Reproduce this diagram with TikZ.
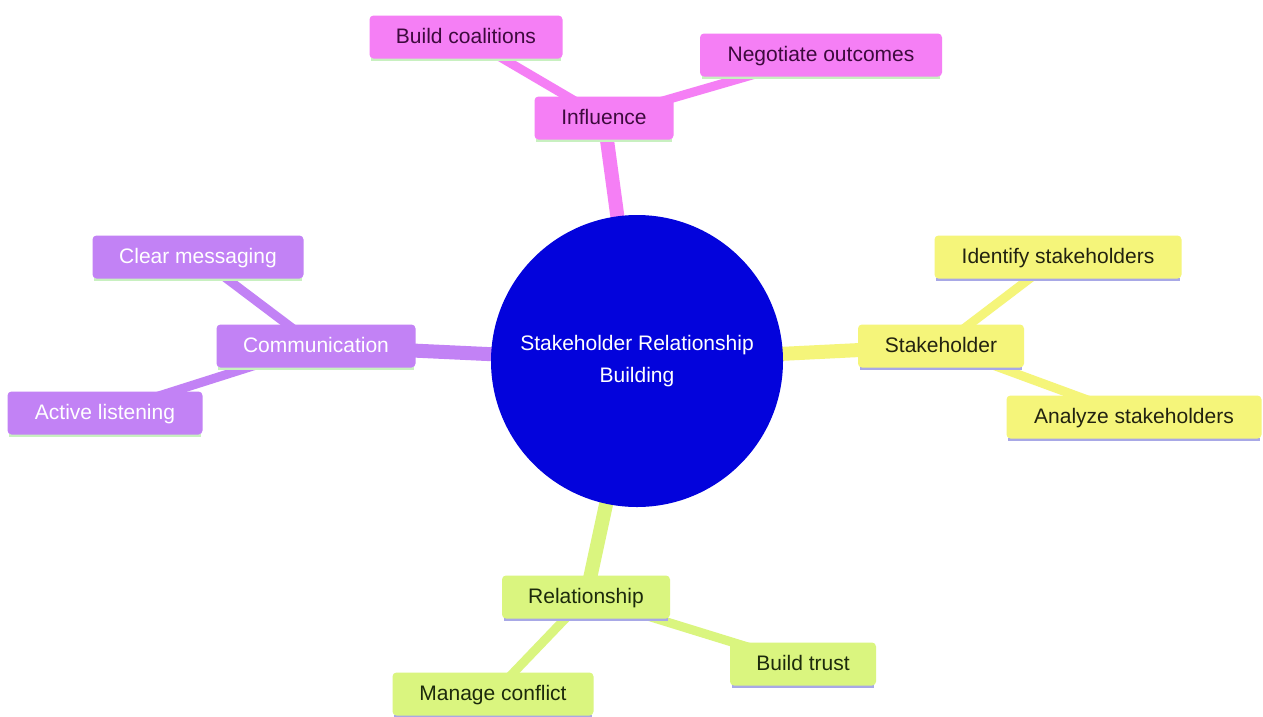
\documentclass[tikz,border=0pt]{standalone}
\usepackage{fontspec}
\setmainfont{Liberation Sans}
\usetikzlibrary{backgrounds}
\definecolor{pinkF}{HTML}{F57FF5}
\definecolor{pinkT}{HTML}{3D0A3D}
\definecolor{purpF}{HTML}{C282F5}
\definecolor{yelF}{HTML}{F5F57A}
\definecolor{yelT}{HTML}{222210}
\definecolor{grnF}{HTML}{DAF57F}
\definecolor{grnT}{HTML}{1C2A0C}
\definecolor{lineG}{HTML}{C8F0C0}
\definecolor{lineL}{HTML}{A8A8E6}
\definecolor{coreB}{HTML}{0303DC}
\tikzset{
  x=1pt, y=-1pt,
  box/.style={rectangle, rounded corners=4pt, minimum height=43pt, inner sep=0pt,
    text height=15pt, text depth=2pt, font=\fontsize{21}{25}\selectfont},
  pinkbox/.style={box, fill=pinkF, text=pinkT},
  purpbox/.style={box, fill=purpF, text=white},
  yelbox/.style={box, fill=yelF, text=yelT},
  grnbox/.style={box, fill=grnF, text=grnT},
  mainedge/.style={line width=14pt},
  leafedge/.style={line width=9pt},
  underG/.style={line width=3pt, draw=lineG},
  underL/.style={line width=3pt, draw=lineL},
}
\begin{document}
\begin{tikzpicture}
\useasboundingbox (0,0) rectangle (1263,716);
% core
\node[circle, fill=coreB, minimum size=292pt, inner sep=0pt, text=white, align=center,
  font=\fontsize{21}{32}\selectfont] (core) at (637,361) {Stakeholder Relationship\\Building};
% influence
\node[pinkbox, minimum width=139pt] (infl) at (604,118) {Influence};
\node[pinkbox, minimum width=193pt] (coal) at (466,37) {Build coalitions};
\node[pinkbox, minimum width=242pt] (nego) at (821,55) {Negotiate outcomes};
% stakeholder
\node[yelbox, minimum width=166pt] (stak) at (941,346) {Stakeholder};
\node[yelbox, minimum width=247pt] (iden) at (1058,257) {Identify stakeholders};
\node[yelbox, minimum width=255pt] (anal) at (1134,417) {Analyze stakeholders};
% communication
\node[purpbox, minimum width=199pt] (comm) at (316,346) {Communication};
\node[purpbox, minimum width=211pt] (clear) at (198,257) {Clear messaging};
\node[purpbox, minimum width=195pt] (activ) at (105,413) {Active listening};
% relationship
\node[grnbox, minimum width=168pt] (rel) at (586,597) {Relationship};
\node[grnbox, minimum width=146pt] (trust) at (803,664) {Build trust};
\node[grnbox, minimum width=201pt] (confl) at (493,694) {Manage conflict};
\begin{pgfonlayer}{background}
  \fill[white] (0,0) rectangle (1263,716);
  \draw[mainedge, draw=pinkF] (core.center) -- (infl.center);
  \draw[leafedge, draw=pinkF] (infl.center) -- (coal.center);
  \draw[leafedge, draw=pinkF] (infl.center) -- (nego.center);
  \draw[mainedge, draw=yelF] (core.center) -- (stak.center);
  \draw[leafedge, draw=yelF] (stak.center) -- (iden.center);
  \draw[leafedge, draw=yelF] (stak.center) -- (anal.center);
  \draw[mainedge, draw=purpF] (core.center) -- (comm.center);
  \draw[leafedge, draw=purpF] (comm.center) -- (clear.center);
  \draw[leafedge, draw=purpF] (comm.center) -- (activ.center);
  \draw[mainedge, draw=grnF] (core.center) -- (rel.center);
  \draw[leafedge, draw=grnF] (rel.center) -- (trust.center);
  \draw[leafedge, draw=grnF] (rel.center) -- (confl.center);
  \foreach \n in {infl,coal,nego,comm,clear,activ}
    \draw[underG] ([xshift=2pt,yshift=-0.5pt]\n.south west) -- ([xshift=-2pt,yshift=-0.5pt]\n.south east);
  \foreach \n in {stak,iden,anal,rel,trust,confl}
    \draw[underL] ([xshift=2pt,yshift=-0.5pt]\n.south west) -- ([xshift=-2pt,yshift=-0.5pt]\n.south east);
\end{pgfonlayer}
\end{tikzpicture}
\end{document}
